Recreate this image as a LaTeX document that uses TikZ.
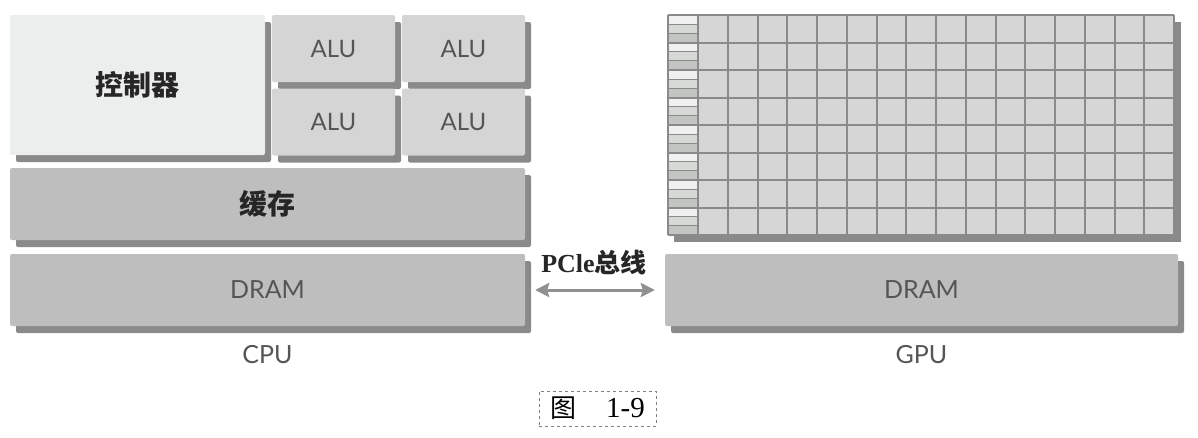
\documentclass[tikz,border=0pt]{standalone}
\usepackage{fontspec}
\setmainfont{Liberation Serif}
\setsansfont{Lato}
\newfontfamily\cjk{Noto Sans CJK SC}
\usepackage{tikz}
\usetikzlibrary{arrows.meta,calc,positioning,shadows}
\definecolor{ctrlfill}{HTML}{ECEEED}
\definecolor{alufill}{HTML}{D5D5D5}
\definecolor{memfill}{HTML}{BEBEBE}
\definecolor{cellfill}{HTML}{D6D6D6}
\definecolor{stripA}{HTML}{EFF0EF}
\definecolor{stripB}{HTML}{D6D9D6}
\definecolor{stripC}{HTML}{C2C5C2}
\definecolor{shdw}{HTML}{8A8A8A}
\definecolor{gridline}{HTML}{8A8A8A}
\definecolor{txtgray}{HTML}{555555}
\definecolor{arrowgray}{HTML}{909090}

\begin{document}
\begin{tikzpicture}[x=1pt,y=-1pt,
  blk/.style={rounded corners=2pt,inner sep=0pt,drop shadow={shadow xshift=6pt,shadow yshift=-7pt,fill=shdw,opacity=1}},
  lbl/.style={font=\sffamily\fontsize{24}{28}\selectfont,text=txtgray},
  hei/.style={font=\cjk\bfseries\fontsize{28}{32}\selectfont,text=black!85}]
\useasboundingbox (0,0) rectangle (1198,437);
% CPU side
\node[blk,hei,fill=ctrlfill,minimum width=255,minimum height=140] (ctrl) at (137.5,85) {控制器};
\foreach \r/\yy in {1/48.5,2/122}
  \foreach \c/\xx in {1/333.5,2/463.5}
    \node[blk,lbl,fill=alufill,minimum width=123,minimum height=67] (alu\r\c) at (\xx,\yy) {ALU};
\node[blk,hei,fill=memfill,minimum width=515,minimum height=72] (cache) at (267.5,204) {缓存};
\node[blk,lbl,fill=memfill,minimum width=515,minimum height=72,font=\sffamily\fontsize{25}{28}\selectfont] (cpudram) at (267.5,290) {DRAM};
\node[lbl,font=\sffamily\fontsize{25}{28}\selectfont] (cpu) at (267.5,355) {CPU};
% GPU side
\fill[shdw] (674,22) rectangle (1181,242);
\fill[cellfill] (668,15) rectangle (1174,235);
\foreach \r in {0,...,7}{
  \fill[stripA] (668,{15+27.5*\r}) rectangle (698,{15+27.5*\r+9.17});
  \fill[stripB] (668,{15+27.5*\r+9.17}) rectangle (698,{15+27.5*\r+18.33});
  \fill[stripC] (668,{15+27.5*\r+18.33}) rectangle (698,{15+27.5*\r+27.5});
  \draw[gridline,line width=0.9pt] (668,{15+27.5*\r+9.17}) -- (698,{15+27.5*\r+9.17})
    (668,{15+27.5*\r+18.33}) -- (698,{15+27.5*\r+18.33});
}
\foreach \c in {0,...,16}
  \draw[gridline,line width=2pt] ({698+29.75*\c},15) -- ({698+29.75*\c},235);
\foreach \r in {0,...,8}
  \draw[gridline,line width=2pt] (668,{15+27.5*\r}) -- (1174,{15+27.5*\r});
\draw[gridline,line width=1.2pt] (668,15) -- (668,235);
\node[blk,lbl,fill=memfill,minimum width=513,minimum height=72,font=\sffamily\fontsize{25}{28}\selectfont] (gpudram) at (921.5,290) {DRAM};
\node[lbl,font=\sffamily\fontsize{25}{28}\selectfont] (gpu) at (921.5,355) {GPU};
% bus
\draw[arrowgray,line width=3pt,{Stealth[length=14pt,width=14pt,inset=2pt]}-{Stealth[length=14pt,width=14pt,inset=2pt]},shorten <=10pt,shorten >=10pt] (cpudram.east) -- (gpudram.west);
\node[font=\bfseries\fontsize{26}{29}\selectfont,text=black!85] (bus) at (594,263) {PCle{\cjk 总线}};
% caption
\node[draw=gray,dashed,line width=0.6pt,minimum width=117,minimum height=35,inner sep=0pt,font=\fontsize{29}{32}\selectfont] (cap) at (597.5,408.5) {{\cjk\fontsize{26}{30}\selectfont 图}\hspace{30pt}1-9};
\end{tikzpicture}
\end{document}
